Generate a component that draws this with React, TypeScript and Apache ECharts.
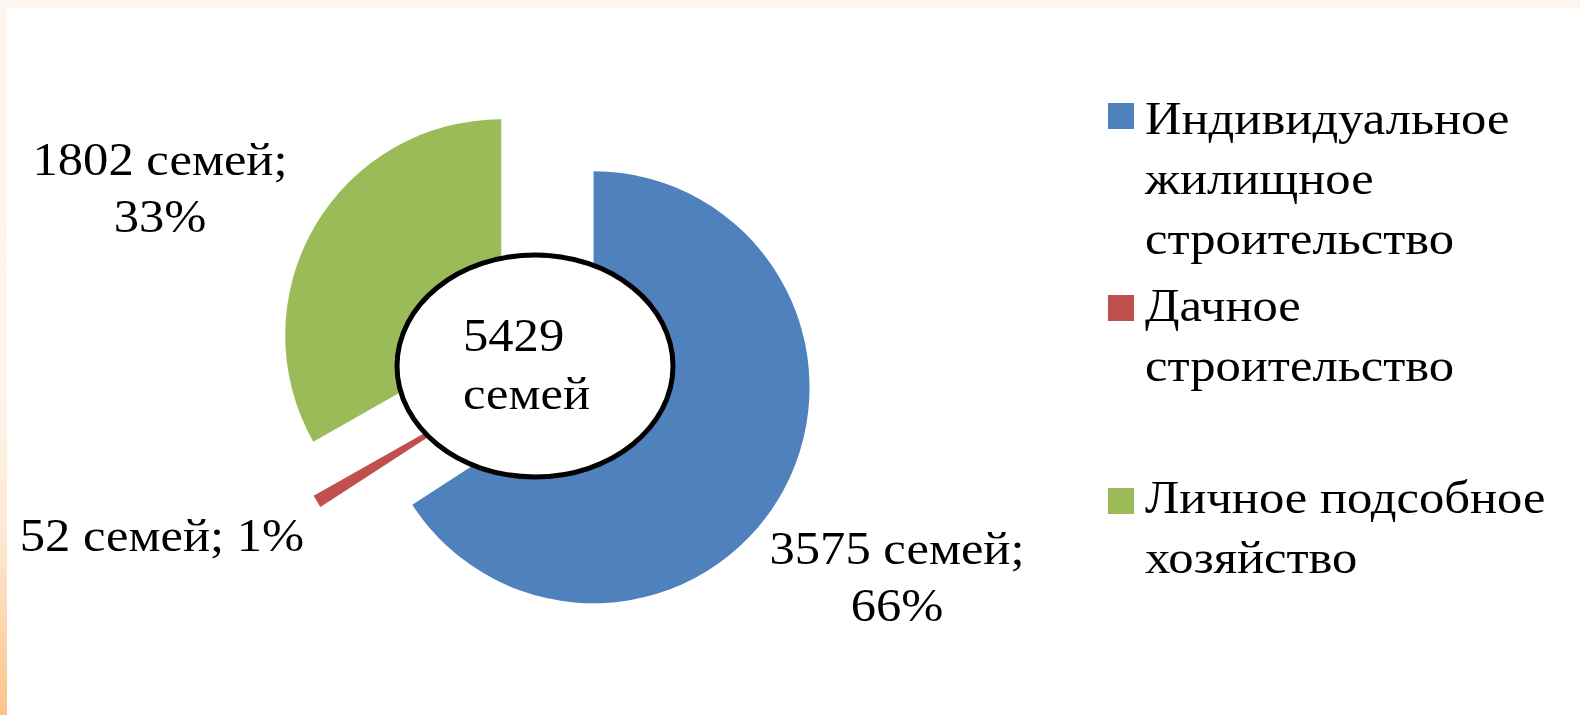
import React, { useEffect, useRef } from "react";
import * as echarts from "echarts";

// ---- data ----
const categories = [
  "Индивидуальное жилищное строительство",
  "Дачное строительство",
  "Личное подсобное хозяйство",
];
const legendLines = [
  ["Индивидуальное", "жилищное", "строительство"],
  ["Дачное", "строительство"],
  ["Личное подсобное", "хозяйство"],
];
const values = [3575, 52, 1802];
const unit = "семей";
const colors = ["#4F81BD", "#C0504D", "#9BBB59"];
const labelBreaks = [true, false, true];

// ---- layout (not data) ----
const labelPos = [
  [897, 577],
  [162, 535],
  [160, 188],
];
const legendMarkerY = [103, 295, 488];
const legendTextTop = [88, 275, 467];
const FONT = '"Liberation Serif", "Times New Roman", serif';
const FS = 46;
const SX = 1.1;

export default function App() {
  const ref = useRef<HTMLDivElement>(null);
  useEffect(() => {
    if (!ref.current) return;
    const chart = echarts.init(ref.current, undefined, { renderer: "svg" });
    const total = values.reduce((a, b) => a + b, 0);

    const extra: any[] = [];
    categories.forEach((c, i) => {
      extra.push({
        type: "rect",
        z: 50,
        shape: { x: 1108, y: legendMarkerY[i], width: 26, height: 26 },
        style: { fill: colors[i] },
      });
      extra.push({
        type: "text",
        z: 50,
        x: 1145,
        y: legendTextTop[i],
        scaleX: SX,
        style: {
          text: legendLines[i].join("\n"),
          x: 0,
          y: 0,
          fontSize: FS,
          fontFamily: FONT,
          lineHeight: 60,
          fill: "#000",
          align: "left",
          verticalAlign: "top",
        },
      });
      const pct = Math.round((values[i] / total) * 100);
      extra.push({
        type: "text",
        z: 50,
        x: labelPos[i][0],
        y: labelPos[i][1],
        scaleX: SX,
        style: {
          text:
            values[i] + " " + unit + ";" + (labelBreaks[i] ? "\n" : " ") + pct + "%",
          x: 0,
          y: 0,
          fontSize: FS,
          fontFamily: FONT,
          lineHeight: 57,
          fill: "#000",
          align: "center",
          verticalAlign: "middle",
        },
      });
    });

    chart.setOption({
      animation: false,
      backgroundColor: "#ffffff",
      series: [
        {
          type: "pie",
          center: [547, 362],
          radius: [60, 216],
          startAngle: 90,
          clockwise: true,
          selectedMode: "multiple",
          selectedOffset: 53,
          emphasis: { disabled: true },
          select: { itemStyle: { borderWidth: 0 } },
          itemStyle: { borderWidth: 0 },
          label: { show: false },
          labelLine: { show: false },
          data: categories.map((c, i) => ({
            name: c,
            value: values[i],
            selected: true,
            itemStyle: { color: colors[i] },
            select: { itemStyle: { color: colors[i] } },
          })),
        },
      ],
      graphic: [
        {
          type: "rect",
          z: -10,
          shape: { x: 0, y: 0, width: 1580, height: 8 },
          style: { fill: "#fdf5ef" },
        },
        {
          type: "rect",
          z: -10,
          shape: { x: 0, y: 0, width: 7, height: 715 },
          style: {
            fill: new echarts.graphic.LinearGradient(0, 0, 0, 1, [
              { offset: 0, color: "#fef6ef" },
              { offset: 0.55, color: "#fef4ea" },
              { offset: 0.75, color: "#fde8d2" },
              { offset: 1, color: "#fcc48a" },
            ]),
          },
        },
        {
          type: "ellipse",
          z: 100,
          shape: { cx: 535, cy: 366, rx: 138, ry: 111 },
          style: { fill: "#ffffff", stroke: "#000000", lineWidth: 5 },
        },
        {
          type: "text",
          z: 101,
          x: 463,
          y: 364,
          scaleX: SX,
          style: {
            text: total + "\n" + unit,
            x: 0,
            y: 0,
            fontSize: FS,
            fontFamily: FONT,
            lineHeight: 58,
            fill: "#000",
            align: "left",
            verticalAlign: "middle",
          },
        },
        ...extra,
      ],
    });
    return () => chart.dispose();
  }, []);
  return (
    <div
      ref={ref}
      style={{ position: "fixed", left: 0, top: 0, width: 1580, height: 715 }}
    />
  );
}
